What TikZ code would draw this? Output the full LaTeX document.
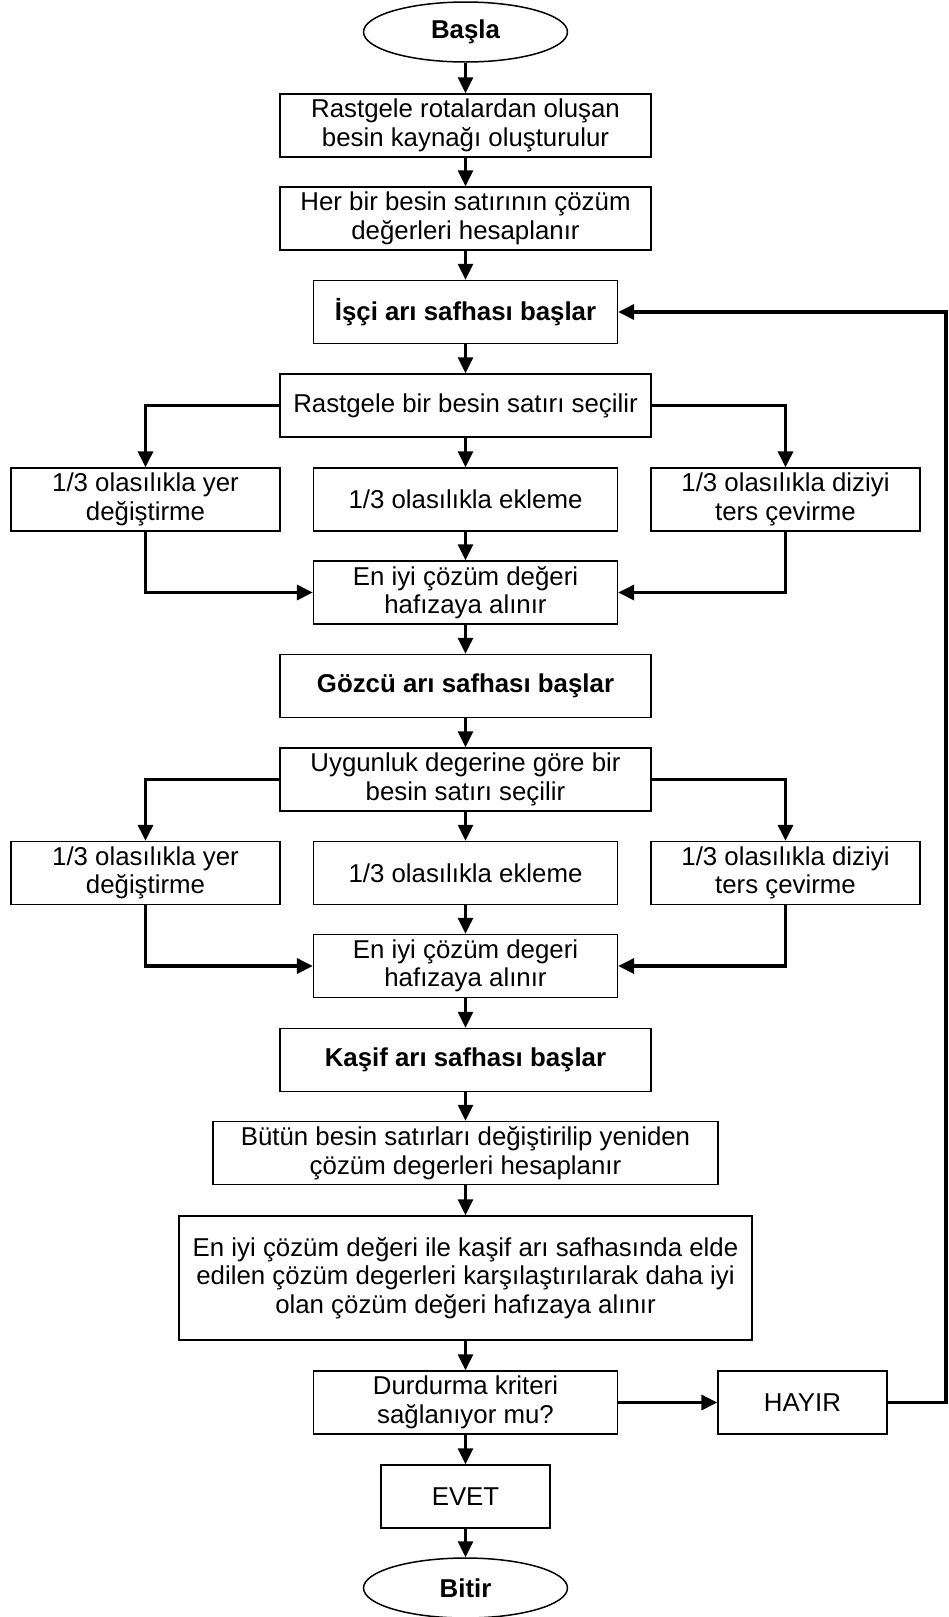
\documentclass[tikz,border=0pt]{standalone}
\usepackage{fontspec}
\setmainfont{Liberation Sans}
\usetikzlibrary{arrows.meta,shapes.geometric}

\begin{document}
\begin{tikzpicture}[x=0.02cm,y=-0.02cm,>={Triangle[length=9pt,width=8.5pt]},
  line join=miter,font=\fontsize{14.7}{16.2}\selectfont,
  box/.style={draw,line width=0.85pt,align=center,inner sep=2pt,minimum height=1.26cm},
  wide/.style={box,minimum width=7.42cm},
  mid/.style={box,minimum width=6.08cm},
  side/.style={box,minimum width=5.38cm},
  small/.style={box,minimum width=3.38cm},
  bold/.style={font=\fontsize{14.7}{16.2}\selectfont\bfseries},
  term/.style={ellipse,draw,line width=0.85pt,minimum width=4.08cm,minimum height=1.2cm,bold},
  flow/.style={->,line width=1.3pt},
  branch/.style={->,line width=1.8pt}]
  \useasboundingbox (0,0) rectangle (949,1617);

  \node[term] (start) at (465.5,32) {Başla};
  \node[wide] (src) at (465.5,125.5) {Rastgele rotalardan oluşan\\besin kaynağı oluşturulur};
  \node[wide] (eval) at (465.5,218.5) {Her bir besin satırının çözüm\\değerleri hesaplanır};
  \node[mid,bold] (isci) at (465.5,312) {İşçi arı safhası başlar};

  \node[wide] (sel1) at (465.5,405.5) {Rastgele bir besin satırı seçilir};
  \node[side] (swap1) at (145.5,499.5) {1/3 olasılıkla yer\\değiştirme};
  \node[mid] (ins1) at (465.5,499.5) {1/3 olasılıkla ekleme};
  \node[side] (rev1) at (785.5,499.5) {1/3 olasılıkla diziyi\\ters çevirme};
  \node[mid] (best1) at (465.5,592.5) {En iyi çözüm değeri\\hafızaya alınır};

  \node[wide,bold] (gozcu) at (465.5,686) {Gözcü arı safhası başlar};
  \node[wide] (sel2) at (465.5,779.5) {Uygunluk degerine göre bir\\besin satırı seçilir};
  \node[side] (swap2) at (145.5,873) {1/3 olasılıkla yer\\değiştirme};
  \node[mid] (ins2) at (465.5,873) {1/3 olasılıkla ekleme};
  \node[side] (rev2) at (785.5,873) {1/3 olasılıkla diziyi\\ters çevirme};
  \node[mid] (best2) at (465.5,966) {En iyi çözüm degeri\\hafızaya alınır};

  \node[wide,bold] (kasif) at (465.5,1060) {Kaşif arı safhası başlar};
  \node[box,minimum width=10.1cm] (renew) at (465.5,1153) {Bütün besin satırları değiştirilip yeniden\\çözüm degerleri hesaplanır};
  \node[box,minimum width=11.46cm,minimum height=2.48cm] (cmp) at (465.5,1278)
    {En iyi çözüm değeri ile kaşif arı safhasında elde\\edilen çözüm degerleri karşılaştırılarak daha iyi\\olan çözüm değeri hafızaya alınır};
  \node[mid] (stop) at (465.5,1402.5) {Durdurma kriteri\\sağlanıyor mu?};
  \node[small] (no) at (802.5,1402.5) {HAYIR};
  \node[small] (yes) at (465.5,1496.5) {EVET};
  \node[term] (end) at (465.5,1588) {Bitir};
  \coordinate (back) at (946,860);

  \draw[flow] (start) -- (src);
  \draw[flow] (src) -- (eval);
  \draw[flow] (eval) -- (isci);
  \draw[flow] (isci) -- (sel1);
  \draw[branch] (sel1.west) -| (swap1.north);
  \draw[flow] (sel1) -- (ins1);
  \draw[branch] (sel1.east) -| (rev1.north);
  \draw[branch] (swap1.south) |- (best1.west);
  \draw[flow] (ins1) -- (best1);
  \draw[branch] (rev1.south) |- (best1.east);
  \draw[flow] (best1) -- (gozcu);
  \draw[flow] (gozcu) -- (sel2);
  \draw[branch] (sel2.west) -| (swap2.north);
  \draw[flow] (sel2) -- (ins2);
  \draw[branch] (sel2.east) -| (rev2.north);
  \draw[branch] (swap2.south) |- (best2.west);
  \draw[flow] (ins2) -- (best2);
  \draw[branch] (rev2.south) |- (best2.east);
  \draw[flow] (best2) -- (kasif);
  \draw[flow] (kasif) -- (renew);
  \draw[flow] (renew) -- (cmp);
  \draw[flow] (cmp) -- (stop);
  \draw[branch] (stop) -- (no);
  \draw[flow] (stop) -- (yes);
  \draw[flow] (yes) -- (end);
  \draw[branch] (no.east) -| (back) |- (isci.east);
\end{tikzpicture}
\end{document}
